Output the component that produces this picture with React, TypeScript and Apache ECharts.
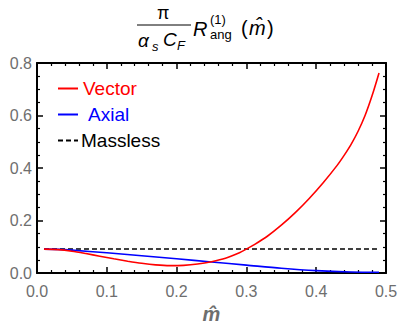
import React, { useEffect, useRef } from "react";
import * as echarts from "echarts";

const mVector = [0.01, 0.03, 0.05, 0.07, 0.09, 0.11, 0.13, 0.15, 0.17, 0.19, 0.21, 0.23, 0.25, 0.27, 0.29, 0.3, 0.31, 0.33, 0.35, 0.37, 0.39, 0.41, 0.43, 0.44, 0.45, 0.46, 0.47, 0.48, 0.49];
const vector = [0.091, 0.089, 0.083, 0.074, 0.064, 0.054, 0.045, 0.037, 0.031, 0.028, 0.029, 0.034, 0.043, 0.056, 0.077, 0.091, 0.106, 0.140, 0.182, 0.230, 0.284, 0.344, 0.410, 0.448, 0.490, 0.540, 0.600, 0.675, 0.762];
const mAxial = [0.01, 0.03, 0.05, 0.1, 0.15, 0.2, 0.25, 0.3, 0.35, 0.4, 0.45, 0.49];
const axial = [0.091, 0.090, 0.087, 0.077, 0.066, 0.054, 0.042, 0.030, 0.018, 0.009, 0.004, 0.003];
const mMassless = [0.01, 0.49];
const massless = [0.091, 0.091];
const xTicks = [0, 0.1, 0.2, 0.3, 0.4, 0.5];
const yTicks = [0, 0.2, 0.4, 0.6, 0.8];

const FONT = "Liberation Sans, Arial, sans-serif";
const GRAY = "#6e6e6e";

export default function App() {
  const ref = useRef<HTMLDivElement>(null);
  useEffect(() => {
    if (!ref.current) return;
    const chart = echarts.init(ref.current, null, { renderer: "svg" });
    const pairs = (xs: number[], ys: number[]) => xs.map((x, i) => [x, ys[i]]);
    const xBase = {
      type: "value" as const,
      min: xTicks[0],
      max: xTicks[xTicks.length - 1],
      interval: 0.1,
      splitLine: { show: false },
      axisLine: { show: true, onZero: false, lineStyle: { color: "#000", width: 2 } },
      axisTick: { show: true, inside: true, length: 6, lineStyle: { color: "#000", width: 1.5 } },
      minorTick: { show: true, splitNumber: 5, length: 3, lineStyle: { color: "#000", width: 1.2 } },
    };
    const yBase = {
      type: "value" as const,
      min: yTicks[0],
      max: yTicks[yTicks.length - 1],
      interval: 0.2,
      splitLine: { show: false },
      axisLine: { show: true, onZero: false, lineStyle: { color: "#000", width: 2 } },
      axisTick: { show: true, inside: true, length: 6, lineStyle: { color: "#000", width: 1.5 } },
      minorTick: { show: true, splitNumber: 4, length: 3, lineStyle: { color: "#000", width: 1.2 } },
    };
    const sub = { fontSize: 13, lineHeight: 13, fontFamily: FONT, fill: "#000" };
    chart.setOption({
      animation: false,
      grid: { left: 37, right: 13, top: 63, bottom: 53, outerBoundsMode: "none" },
      xAxis: [
        {
          ...xBase,
          position: "bottom",
          name: "m\u0302",
          nameLocation: "middle",
          nameGap: 31,
          nameTextStyle: { fontSize: 20, lineHeight: 20, fontWeight: "bold", fontStyle: "italic", color: GRAY, fontFamily: FONT },
          axisLabel: { margin: 10, fontSize: 16, color: GRAY, fontFamily: FONT, formatter: (v: number) => v.toFixed(1) },
        },
        { ...xBase, position: "top", axisLabel: { show: false } },
      ],
      yAxis: [
        {
          ...yBase,
          position: "left",
          axisLabel: { margin: 5, fontSize: 16, color: GRAY, fontFamily: FONT, formatter: (v: number) => v.toFixed(1) },
        },
        { ...yBase, position: "right", axisLabel: { show: false } },
      ],
      legend: {
        orient: "vertical",
        left: 52,
        top: 74,
        itemWidth: 20,
        itemHeight: 10,
        itemGap: 7,
        itemStyle: { opacity: 0 },
        textStyle: { fontSize: 19, fontFamily: FONT },
        data: [
          { name: "Vector", textStyle: { color: "#ff0000" } },
          { name: "Axial", textStyle: { color: "#0000ff", padding: [0, 0, 0, 5] } },
          { name: "Massless", textStyle: { color: "#000", padding: [0, 0, 0, -2] } },
        ],
      },
      series: [
        {
          name: "Vector",
          type: "line",
          data: pairs(mVector, vector),
          smooth: 0.3,
          symbol: "none",
          lineStyle: { color: "#ff0000", width: 1.6 },
          itemStyle: { color: "#ff0000" },
          z: 3,
        },
        {
          name: "Axial",
          type: "line",
          data: pairs(mAxial, axial),
          smooth: 0.3,
          symbol: "none",
          lineStyle: { color: "#0000ff", width: 1.6 },
          itemStyle: { color: "#0000ff" },
          z: 2,
        },
        {
          name: "Massless",
          type: "line",
          data: pairs(mMassless, massless),
          symbol: "none",
          lineStyle: { color: "#000", width: 1.5, type: [5, 3] },
          itemStyle: { color: "#000" },
          z: 1,
        },
      ],
      graphic: [
        { type: "text", left: 157, top: 4, style: { text: "\u03C0", fontSize: 18, fontFamily: FONT, fill: "#000" } },
        { type: "line", shape: { x1: 137, y1: 25, x2: 191, y2: 25 }, style: { stroke: "#000", lineWidth: 1 } },
        { type: "text", left: 138, top: 31, style: { text: "\u03B1", fontSize: 19, fontStyle: "italic", fontFamily: FONT, fill: "#000" } },
        { type: "text", left: 152, top: 40, style: { text: "s", fontSize: 13, fontStyle: "italic", fontFamily: FONT, fill: "#000" } },
        { type: "text", left: 163, top: 30, style: { text: "C", fontSize: 19, fontStyle: "italic", fontFamily: FONT, fill: "#000" } },
        { type: "text", left: 177, top: 39, style: { text: "F", fontSize: 13, fontStyle: "italic", fontFamily: FONT, fill: "#000" } },
        { type: "text", left: 193, top: 19, style: { text: "R", fontSize: 20, fontStyle: "italic", fontFamily: FONT, fill: "#000" } },
        { type: "text", left: 210, top: 13, style: { text: "(1)", ...sub } },
        { type: "text", left: 210, top: 28, style: { text: "ang", ...sub } },
        { type: "text", left: 241, top: 18, style: { text: "(", fontSize: 20, fontFamily: FONT, fill: "#000" } },
        { type: "text", left: 249, top: 18, style: { text: "m\u0302", fontSize: 20, fontStyle: "italic", fontFamily: FONT, fill: "#000" } },
        { type: "text", left: 267, top: 18, style: { text: ")", fontSize: 20, fontFamily: FONT, fill: "#000" } },
      ],
    });
    return () => chart.dispose();
  }, []);
  return <div ref={ref} style={{ width: 399, height: 326, position: "absolute", left: 0, top: 0 }} />;
}
